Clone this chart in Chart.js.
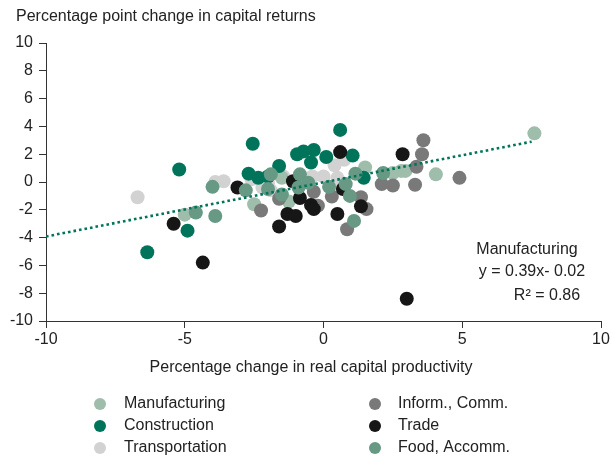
<!DOCTYPE html>
<html>
<head>
<meta charset="utf-8">
<script src="https://cdn.jsdelivr.net/npm/chart.js@4/dist/chart.umd.min.js"></script>
<style>
  html, body { margin: 0; padding: 0; background: #fff; }
  #wrap { width: 614px; height: 461px; position: relative; }
</style>
</head>
<body>
<div id="wrap"><canvas id="c" width="614" height="461"></canvas></div>
<script>
// Sector observations: x = % change in real capital productivity, y = pp change in capital returns
const manufacturingX = [7.6, 4.05, -5.0, -2.5, -1.25, 1.5, 2.8, 2.95, 2.5, -1.5];
const manufacturingY = [3.5, 0.55, -2.35, -1.6, -1.4, 1.05, 0.8, 0.8, 0.65, 0.3];

const constructionX = [-5.2, -4.9, -6.35, -2.55, 0.6, -0.95, -0.72, -0.35, 0.1, -0.45, 1.05, -1.6, -2.7, -2.35, -2.0, 1.45];
const constructionY = [0.9, -3.5, -5.05, 2.75, 3.75, 2.0, 2.2, 2.3, 1.8, 1.4, 1.9, 1.15, 0.6, 0.3, 0.4, 0.3];

const transportationX = [-6.7, -3.9, -3.6, -2.6, -2.2, -2.0, -1.45, -0.4, 0.0, 0.4, 0.75, 0.4, 0.5, -1.9];
const transportationY = [-1.1, 0.0, 0.05, 0.2, -0.4, -0.1, 0.4, 0.4, 0.4, 1.2, 1.6, -0.5, 0.3, -0.6];

const informX = [3.6, 3.55, 3.35, 4.9, 3.3, 2.5, 2.1, -0.35, -1.6, -2.25, -0.2, 0.3, 1.35, 1.55, 0.85];
const informY = [3.0, 2.0, 1.1, 0.3, -0.2, -0.25, -0.15, -0.7, -1.2, -2.05, -1.7, -1.05, -1.1, -1.95, -3.4];

const tradeX = [-5.4, -4.35, -3.1, 0.6, 2.85, -1.1, 0.7, -0.85, -0.45, -0.35, -1.3, -1.0, -1.6, 0.5, 1.35, 3.0];
const tradeY = [-3.0, -5.8, -0.4, 2.15, 2.0, 0.05, -0.5, -1.15, -1.65, -1.95, -2.3, -2.45, -3.2, -2.3, -1.75, -8.4];

const foodX = [-4.0, -4.6, -3.9, -2.8, -1.9, -2.0, -1.5, -0.85, -0.9, -0.55, 0.2, 0.8, 0.95, 1.1, 1.15, 2.15];
const foodY = [-0.35, -2.2, -2.45, -0.6, 0.55, -0.5, -0.9, 0.55, -0.4, -0.05, -0.35, -0.15, -1.0, -2.8, 0.6, 0.65];

// Fitted trend line end points (y = 0.39x - 0.02)
const trendX = [-10, 7.5];
const trendY = [-3.92, 2.9];

const xTicks = [-10, -5, 0, 5, 10];
const yTicks = [-10, -8, -6, -4, -2, 0, 2, 4, 6, 8, 10];

const seriesNames = ['Manufacturing', 'Construction', 'Transportation', 'Inform., Comm.', 'Trade', 'Food, Accomm.'];
const seriesColors = ['#9fbdab', '#00745a', '#d2d2d2', '#797979', '#161616', '#679985'];
const seriesX = [manufacturingX, constructionX, transportationX, informX, tradeX, foodX];
const seriesY = [manufacturingY, constructionY, transportationY, informY, tradeY, foodY];

const FONT = '"Liberation Sans", Arial, Helvetica, sans-serif';
const TEXT = '#222222';

const pairs = (xs, ys) => xs.map((x, i) => ({ x, y: ys[i] }));

// Draw order: food on top, then others
const drawOrder = [5, 3, 6, 4, 2, 1];
const datasets = seriesNames.map((name, i) => ({
  type: 'scatter',
  label: name,
  data: pairs(seriesX[i], seriesY[i]),
  backgroundColor: seriesColors[i],
  borderWidth: 0,
  pointRadius: 7,
  pointHoverRadius: 7,
  order: drawOrder[i]
}));
datasets.push({
  type: 'line',
  label: 'Trend',
  data: pairs(trendX, trendY),
  borderColor: '#00745a',
  borderWidth: 2.6,
  borderDash: [2.6, 3],
  pointRadius: 0,
  fill: false,
  order: 0
});

// Extra texts: axis titles, fit annotation and two-column legend
const textPlugin = {
  id: 'texts',
  afterDraw(chart) {
    const ctx = chart.ctx;
    ctx.save();
    ctx.fillStyle = TEXT;
    ctx.font = '16px ' + FONT;
    ctx.textBaseline = 'middle';

    ctx.textAlign = 'left';
    ctx.fillText('Percentage point change in capital returns', 16, 17);

    ctx.textAlign = 'center';
    ctx.fillText('Percentage change in real capital productivity', 311, 368);

    ctx.fillText('Manufacturing', 527, 250);
    ctx.fillText('y = 0.39x- 0.02', 532, 272);
    ctx.fillText('R² = 0.86', 547, 296);

    ctx.textAlign = 'left';
    const cols = [{ m: 100, t: 124 }, { m: 375, t: 398 }];
    const rows = [404, 426, 448];
    seriesNames.forEach((name, i) => {
      const col = cols[Math.floor(i / 3)];
      const y = rows[i % 3];
      ctx.beginPath();
      ctx.fillStyle = seriesColors[i];
      ctx.arc(col.m, y, 6, 0, Math.PI * 2);
      ctx.fill();
      ctx.fillStyle = TEXT;
      ctx.fillText(name, col.t, y);
    });
    ctx.restore();
  }
};

new Chart(document.getElementById('c'), {
  data: { datasets },
  options: {
    responsive: false,
    animation: false,
    events: [],
    layout: { padding: { top: 43, right: 13, left: 0, bottom: 0 } },
    plugins: { legend: { display: false }, tooltip: { enabled: false }, title: { display: false } },
    scales: {
      x: {
        type: 'linear',
        min: -10, max: 10,
        afterFit(s) { s.height = 140; },
        afterBuildTicks(s) { s.ticks = xTicks.map(v => ({ value: v })); },
        ticks: { color: TEXT, font: { family: FONT, size: 16 }, padding: 2, maxRotation: 0 },
        grid: { display: true, drawOnChartArea: false, drawTicks: true, tickLength: 7, color: '#333', tickColor: '#333' },
        border: { display: true, color: '#333', width: 1 }
      },
      y: {
        type: 'linear',
        min: -10, max: 10,
        afterFit(s) { s.width = 46; },
        afterBuildTicks(s) { s.ticks = yTicks.map(v => ({ value: v })); },
        ticks: { color: TEXT, font: { family: FONT, size: 16 }, padding: 6 },
        grid: { display: true, drawOnChartArea: false, drawTicks: true, tickLength: 7, color: '#333', tickColor: '#333' },
        border: { display: true, color: '#333', width: 1 }
      }
    }
  },
  plugins: [textPlugin]
});
</script>
</body>
</html>
